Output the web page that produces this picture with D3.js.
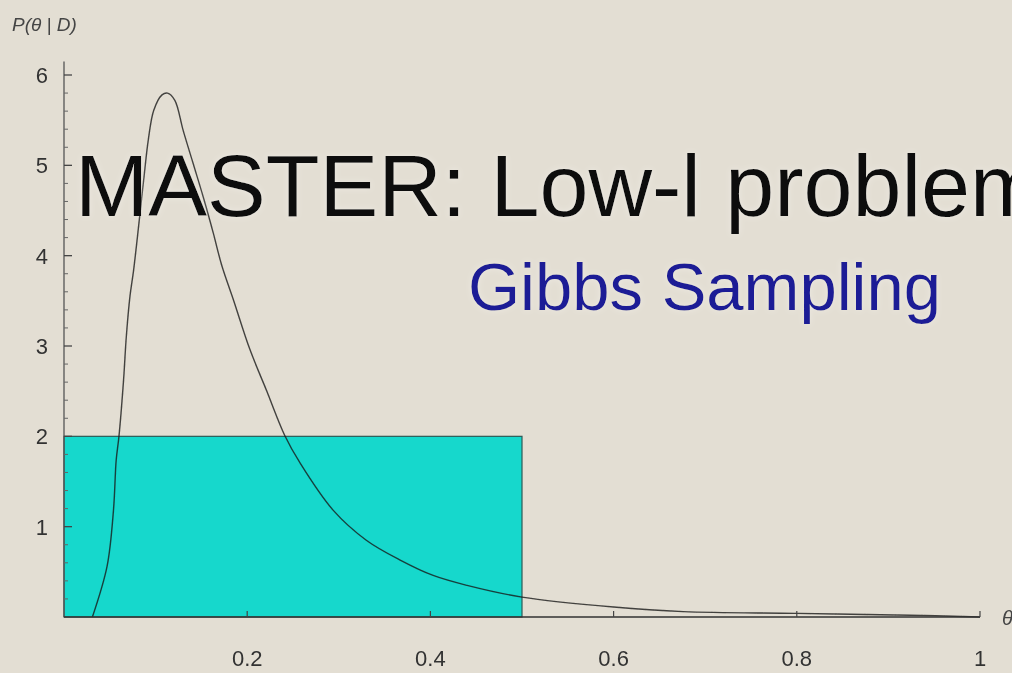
<!DOCTYPE html>
<html>
<head>
<meta charset="utf-8">
<script src="https://cdn.jsdelivr.net/npm/d3@7"></script>
<style>
  html, body { margin: 0; padding: 0; background: #e3ded3; }
  svg { display: block; }
  text { font-family: "Liberation Sans", Arial, sans-serif; }
</style>
</head>
<body>
<svg id="chart"></svg>
<script>
// Posterior density P(theta | D)
const thetaVals = [0.031, 0.047, 0.054, 0.057, 0.060, 0.065, 0.068, 0.072, 0.076, 0.087,
  0.092, 0.098, 0.107, 0.113, 0.121, 0.130, 0.141, 0.152, 0.163, 0.172, 0.185, 0.203,
  0.221, 0.241, 0.258, 0.294, 0.330, 0.367, 0.403, 0.440, 0.500, 0.600, 0.676, 0.800,
  0.924, 1.000];
const densVals = [0, 0.56, 1.18, 1.74, 2.00, 2.62, 3.10, 3.55, 3.84, 4.84,
  5.28, 5.61, 5.78, 5.80, 5.72, 5.39, 5.02, 4.65, 4.25, 3.90, 3.51, 2.96,
  2.51, 2.01, 1.70, 1.18, 0.85, 0.63, 0.46, 0.35, 0.22, 0.11, 0.06, 0.04,
  0.02, 0.00];

// uniform proposal box
const boxRange = [0, 0.5];
const boxHeight = 2;

const xTicks = [0.2, 0.4, 0.6, 0.8, 1];
const yTicks = [1, 2, 3, 4, 5, 6];

const width = 1012;
const height = 673;

const svg = d3.select("#chart")
  .attr("width", width)
  .attr("height", height);

svg.append("rect")
  .attr("width", width).attr("height", height)
  .attr("fill", "#e3ded3");

const defs = svg.append("defs");
defs.append("filter").attr("id", "soft")
  .append("feGaussianBlur").attr("stdDeviation", 0.6);
const glow = defs.append("filter").attr("id", "glow")
  .attr("x", "-5%").attr("y", "-20%").attr("width", "110%").attr("height", "140%");
glow.append("feGaussianBlur").attr("in", "SourceAlpha").attr("stdDeviation", 3).attr("result", "b");
glow.append("feFlood").attr("flood-color", "#ffffff").attr("flood-opacity", 0.35);
glow.append("feComposite").attr("in2", "b").attr("operator", "in").attr("result", "g");
const gm = glow.append("feMerge");
gm.append("feMergeNode").attr("in", "g");
gm.append("feMergeNode").attr("in", "SourceGraphic");

const x = d3.scaleLinear().domain([0, 1]).range([64, 980]);
const y = d3.scaleLinear().domain([0, 6]).range([617, 75]);

const plot = svg.append("g").attr("filter", "url(#soft)");

// box
plot.append("rect")
  .attr("x", x(boxRange[0]))
  .attr("y", y(boxHeight))
  .attr("width", x(boxRange[1]) - x(boxRange[0]))
  .attr("height", y(0) - y(boxHeight))
  .attr("fill", "#12d8cc")
  .attr("stroke", "#2e5a56")
  .attr("stroke-width", 1.2);

// curve
const pts = thetaVals.map((t, i) => [t, densVals[i]]);
const line = d3.line()
  .x(d => x(d[0]))
  .y(d => y(d[1]))
  .curve(d3.curveCatmullRom.alpha(0.5));

plot.append("path")
  .datum(pts)
  .attr("d", line)
  .attr("fill", "none")
  .attr("stroke", "#1a1a1a")
  .attr("stroke-opacity", 0.8)
  .attr("stroke-width", 1.4);

// y axis with minor ticks every 0.2
const yAxis = plot.append("g");
yAxis.append("line")
  .attr("x1", x(0)).attr("x2", x(0))
  .attr("y1", y(0)).attr("y2", y(6.15))
  .attr("stroke", "#555").attr("stroke-width", 1.3);
yAxis.selectAll("line.minor")
  .data(d3.range(1, 31).map(i => i / 5).filter(v => Math.abs(v - Math.round(v)) > 1e-6))
  .join("line")
  .attr("class", "minor")
  .attr("x1", x(0)).attr("x2", x(0) + 4)
  .attr("y1", d => y(d)).attr("y2", d => y(d))
  .attr("stroke", "#666").attr("stroke-width", 1);
yAxis.selectAll("line.major")
  .data(yTicks)
  .join("line")
  .attr("class", "major")
  .attr("x1", x(0)).attr("x2", x(0) + 8)
  .attr("y1", d => y(d)).attr("y2", d => y(d))
  .attr("stroke", "#444").attr("stroke-width", 1.3);
yAxis.selectAll("text")
  .data(yTicks)
  .join("text")
  .attr("x", 48)
  .attr("y", d => y(d) + 8)
  .attr("text-anchor", "end")
  .attr("font-size", 22)
  .attr("fill", "#333")
  .text(d => d);

// x axis
const xAxis = plot.append("g");
xAxis.append("line")
  .attr("x1", x(0)).attr("x2", x(1))
  .attr("y1", y(0)).attr("y2", y(0))
  .attr("stroke", "#333").attr("stroke-width", 1.6);
xAxis.selectAll("line.major")
  .data(xTicks)
  .join("line")
  .attr("x1", d => x(d)).attr("x2", d => x(d))
  .attr("y1", y(0)).attr("y2", y(0) - 6)
  .attr("stroke", "#444").attr("stroke-width", 1.2);
xAxis.selectAll("text")
  .data(xTicks)
  .join("text")
  .attr("x", d => x(d))
  .attr("y", 666)
  .attr("text-anchor", "middle")
  .attr("font-size", 22)
  .attr("fill", "#333")
  .text(d => d3.format("~g")(d));

// axis labels
plot.append("text")
  .attr("x", 1002).attr("y", 625)
  .attr("font-size", 20)
  .attr("font-style", "italic")
  .attr("fill", "#444")
  .text("θ");
plot.append("text")
  .attr("x", 12).attr("y", 31)
  .attr("font-size", 19)
  .attr("font-style", "italic")
  .attr("fill", "#444")
  .text("P(θ | D)");

// slide titles
svg.append("text")
  .attr("x", 75).attr("y", 216)
  .attr("font-size", 88)
  .attr("fill", "#111")
  .attr("filter", "url(#glow)")
  .text("MASTER: Low-l problem");
svg.append("text")
  .attr("x", 468).attr("y", 310)
  .attr("font-size", 67)
  .attr("fill", "#1f1f96")
  .attr("filter", "url(#glow)")
  .text("Gibbs Sampling");
</script>
</body>
</html>
